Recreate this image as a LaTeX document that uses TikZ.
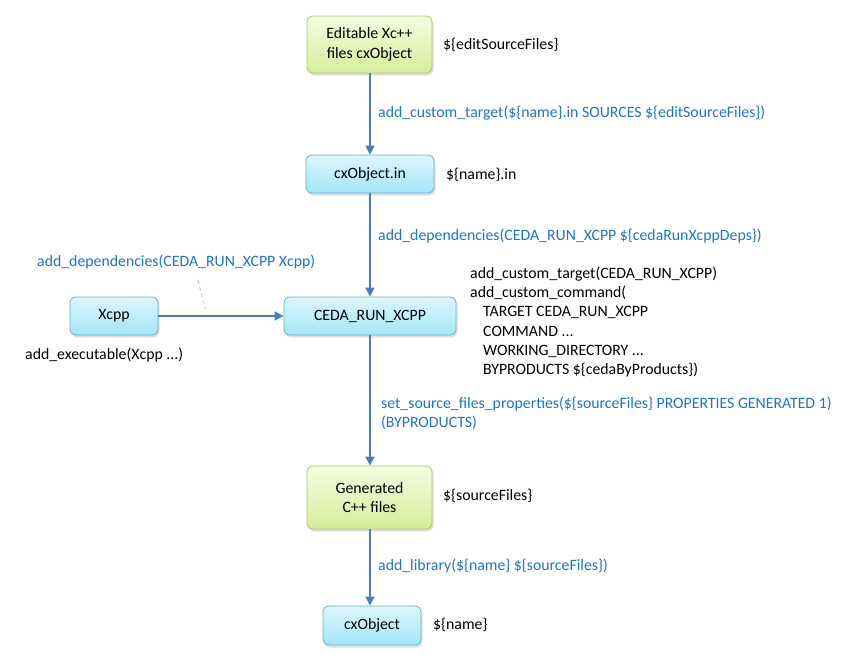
\documentclass[tikz,border=0pt]{standalone}
\usepackage{fontspec}
\setmainfont{Carlito}
\usetikzlibrary{shadows,arrows.meta}
\definecolor{txtblue}{HTML}{1F74C4}
\definecolor{arrowblue}{HTML}{4A7EBB}
\definecolor{bluetop}{HTML}{DDF6FD}
\definecolor{bluebot}{HTML}{A3E6F8}
\definecolor{blueedge}{HTML}{6AAFCB}
\definecolor{greentop}{HTML}{F6FBE0}
\definecolor{greenbot}{HTML}{D3EE9A}
\definecolor{greenedge}{HTML}{A9C771}
\tikzset{
  box/.style={rounded corners=6pt, draw=#1, line width=0.8pt, align=center,
     inner sep=0pt, drop shadow={shadow xshift=1.5pt, shadow yshift=-2.5pt, opacity=0.25}},
  bluebox/.style={box=blueedge, top color=bluetop, bottom color=bluebot},
  greenbox/.style={box=greenedge, top color=greentop, bottom color=greenbot},
  conn/.style={draw=arrowblue, line width=1.6pt, -{Triangle[length=9pt,width=9pt]}},
  lab/.style={anchor=west, inner sep=0pt, text=txtblue},
  note/.style={anchor=west, inner sep=0pt, text=black}
}
\begin{document}
\begin{tikzpicture}[x=1pt,y=-1pt, font=\fontsize{15.8}{19.3}\selectfont]
\useasboundingbox (0,0) rectangle (859,664);
\node[greenbox, minimum width=125pt, minimum height=57pt] (edit) at (369.5,44.5) {Editable Xc++\\files cxObject};
\node[bluebox, minimum width=128pt, minimum height=38pt] (cin) at (370,174) {cxObject.in};
\node[bluebox, minimum width=172pt, minimum height=38pt] (ceda) at (370,316) {CEDA\_RUN\_XCPP};
\node[bluebox, minimum width=88pt, minimum height=38pt] (xcpp) at (114,316) {Xcpp};
\node[greenbox, minimum width=125pt, minimum height=63pt] (gen) at (369.5,497.5) {Generated\\C++ files};
\node[bluebox, minimum width=98pt, minimum height=39pt] (cxo) at (372,625.5) {cxObject};

\draw[conn] (edit.south -| 370,0) -- (cin.north -| 370,0);
\draw[conn] (cin.south -| 370,0) -- (ceda.north -| 370,0);
\draw[conn] (ceda.south -| 370,0) -- (gen.north -| 370,0);
\draw[conn] (gen.south -| 370,0) -- (cxo.north -| 370,0);
\draw[conn] (xcpp) -- (ceda);

\node[note] (n1) at (443,45) {\$\{editSourceFiles\}};
\node[note] (n2) at (446,175) {\$\{name\}.in};
\node[note] (n3) at (443,496) {\$\{sourceFiles\}};
\node[note] (n4) at (433,625) {\$\{name\}};
\node[note] (n5) at (25,355) {add\_executable(Xcpp ...)};

\node[lab] (l1) at (378,113) {add\_custom\_target(\$\{name\}.in SOURCES \$\{editSourceFiles\})};
\node[lab] (l2) at (378,236) {add\_dependencies(CEDA\_RUN\_XCPP \$\{cedaRunXcppDeps\})};
\node[lab] (l3) at (37,262) {add\_dependencies(CEDA\_RUN\_XCPP Xcpp)};
\node[lab, align=left] (l4) at (381,413.5) {set\_source\_files\_properties(\$\{sourceFiles\} PROPERTIES GENERATED 1)\\(BYPRODUCTS)};
\node[lab] (l5) at (378,566) {add\_library(\$\{name\} \$\{sourceFiles\})};

\node[note, align=left] (code) at (470,322) {add\_custom\_target(CEDA\_RUN\_XCPP)\\
add\_custom\_command(\\
\hspace*{13pt}TARGET CEDA\_RUN\_XCPP\\
\hspace*{13pt}COMMAND ...\\
\hspace*{13pt}WORKING\_DIRECTORY ...\\
\hspace*{13pt}BYPRODUCTS \$\{cedaByProducts\})};

\coordinate (d1) at (198,280);
\coordinate (d2) at (205,309);
\draw[gray!35, line width=1.2pt, dash pattern=on 4pt off 3pt] (d1) -- (d2);
\end{tikzpicture}
\end{document}
